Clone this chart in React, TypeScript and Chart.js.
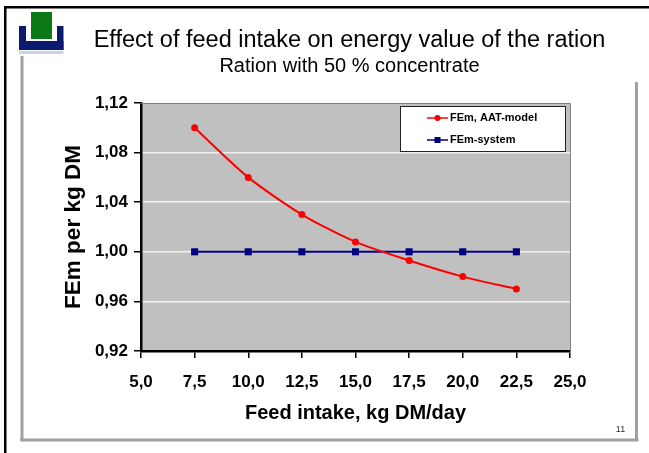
import React, { useEffect, useRef } from "react";
import { Chart, registerables } from "chart.js";

Chart.register(...registerables);

const intake = [7.5, 10, 12.5, 15, 17.5, 20, 22.5];
const aatModel = [1.1, 1.06, 1.03, 1.008, 0.993, 0.98, 0.97];
const femSystem = [1, 1, 1, 1, 1, 1, 1];
const titleText = "Effect of feed intake on energy value of the ration";
const subtitleText = "Ration with 50 % concentrate";
const xLabel = "Feed intake, kg DM/day";
const yLabel = "FEm per kg DM";
const pageNumber = "11";

const FONT = "'Liberation Sans', Arial, sans-serif";
const RED = "#ff0000";
const NAVY = "#000080";

const slidePlugin = {
  id: "slide",
  beforeDraw(chart: any) {
    const { ctx, chartArea: a } = chart;
    ctx.save();
    ctx.fillStyle = "#ffffff";
    ctx.fillRect(0, 0, chart.width, chart.height);
    // slide outline
    ctx.fillStyle = "#000000";
    ctx.fillRect(4, 6, 645, 2.5);
    ctx.fillRect(4, 6, 2.5, 447);
    // grey frame
    ctx.fillStyle = "#a0a0a0";
    ctx.fillRect(20.5, 56, 3, 385);
    ctx.fillRect(20.5, 438.5, 618, 3);
    ctx.fillRect(635, 82, 3, 359);
    // logo
    ctx.fillStyle = "#0a1a6e";
    ctx.fillRect(19, 26, 7, 24);
    ctx.fillRect(57, 26, 6.5, 24);
    ctx.fillRect(19, 41, 44.5, 9);
    ctx.fillStyle = "#cdd2ea";
    ctx.fillRect(19, 51, 44.5, 3);
    ctx.fillStyle = "#0b7a16";
    ctx.fillRect(31, 12, 21, 27);
    // plot background
    ctx.fillStyle = "#c0c0c0";
    ctx.fillRect(a.left, a.top, a.right - a.left, a.bottom - a.top);
    ctx.restore();
  },
  afterDatasetsDraw(chart: any) {
    const { ctx, chartArea: a } = chart;
    ctx.save();
    // plot border top and right
    ctx.strokeStyle = "#808080";
    ctx.lineWidth = 1;
    ctx.beginPath();
    ctx.moveTo(a.left, a.top + 0.5);
    ctx.lineTo(a.right + 0.5, a.top + 0.5);
    ctx.lineTo(a.right + 0.5, a.bottom);
    ctx.stroke();
    // legend box
    const bx = 400, by = 106, bw = 165, bh = 45;
    ctx.fillStyle = "#ffffff";
    ctx.fillRect(bx, by, bw, bh);
    ctx.strokeStyle = "#222222";
    ctx.lineWidth = 1;
    ctx.strokeRect(bx + 0.5, by + 0.5, bw, bh);
    chart.data.datasets.forEach((d: any, i: number) => {
      const y = by + 12 + i * 22;
      ctx.strokeStyle = d.borderColor;
      ctx.lineWidth = 1.5;
      ctx.beginPath();
      ctx.moveTo(427, y);
      ctx.lineTo(448, y);
      ctx.stroke();
      ctx.fillStyle = d.backgroundColor;
      if (d.pointStyle === "circle") {
        ctx.beginPath();
        ctx.arc(437.5, y, 3, 0, Math.PI * 2);
        ctx.fill();
      } else {
        ctx.fillRect(434.5, y - 3, 6, 6);
      }
      ctx.fillStyle = "#000000";
      ctx.font = `bold 11px ${FONT}`;
      ctx.textAlign = "left";
      ctx.textBaseline = "middle";
      ctx.fillText(d.label, 450, y);
    });
    // slide number
    ctx.fillStyle = "#333333";
    ctx.font = `9px ${FONT}`;
    ctx.textAlign = "center";
    ctx.textBaseline = "middle";
    ctx.fillText(pageNumber, 620.5, 430);
    ctx.restore();
  },
};

export default function App() {
  const ref = useRef<HTMLCanvasElement | null>(null);
  useEffect(() => {
    const chart = new Chart(ref.current as HTMLCanvasElement, {
      type: "line",
      data: {
        datasets: [
          {
            label: "FEm, AAT-model",
            data: intake.map((x, i) => ({ x, y: aatModel[i] })),
            borderColor: RED,
            backgroundColor: RED,
            borderWidth: 2,
            pointStyle: "circle",
            pointRadius: 3.5,
            pointBorderWidth: 0,
            tension: 0.25,
          },
          {
            label: "FEm-system",
            data: intake.map((x, i) => ({ x, y: femSystem[i] })),
            borderColor: NAVY,
            backgroundColor: NAVY,
            borderWidth: 2,
            pointStyle: "rect",
            pointRadius: 5,
            pointBorderWidth: 0,
          },
        ],
      },
      options: {
        responsive: false,
        animation: false,
        layout: { padding: { left: 50, right: 0, top: 0, bottom: 0 } },
        plugins: {
          legend: { display: false },
          tooltip: { enabled: false },
          title: {
            display: true,
            text: titleText,
            color: "#000000",
            font: { family: FONT, size: 23.5, weight: "normal", lineHeight: 1.2 },
            padding: { top: 26, bottom: 0 },
          },
          subtitle: {
            display: true,
            text: subtitleText,
            color: "#000000",
            font: { family: FONT, size: 20, weight: "normal", lineHeight: 1.2 },
            padding: { top: 0, bottom: 24.8 },
          },
        },
        scales: {
          x: {
            type: "linear",
            min: 5,
            max: 25,
            afterFit: (s: any) => {
              s.height = 102;
            },
            afterBuildTicks: (s: any) => {
              s.ticks = [5, 7.5, 10, 12.5, 15, 17.5, 20, 22.5, 25].map((value) => ({ value }));
            },
            border: { color: "#000000", width: 2.5 },
            grid: { drawOnChartArea: false, color: "#000000", lineWidth: 1.5, tickLength: 7 },
            ticks: {
              color: "#000000",
              padding: 14,
              maxRotation: 0,
              autoSkip: false,
              font: { family: FONT, size: 17, weight: "bold" },
              callback: (v: any) => Number(v).toFixed(1).replace(".", ","),
            },
            title: {
              display: true,
              text: xLabel,
              color: "#000000",
              font: { family: FONT, size: 20, weight: "bold", lineHeight: 1.2 },
              padding: { top: 0, bottom: 28 },
            },
          },
          y: {
            type: "linear",
            position: "left",
            min: 0.92,
            max: 1.12,
            afterFit: (s: any) => {
              s.width = 91;
            },
            afterBuildTicks: (s: any) => {
              s.ticks = [0.92, 0.96, 1, 1.04, 1.08, 1.12].map((value) => ({ value }));
            },
            border: { color: "#000000", width: 2.5 },
            grid: {
              color: (c: any) => (c.tick && (c.tick.value <= 0.92 || c.tick.value >= 1.12) ? "rgba(0,0,0,0)" : "#f2f2f2"),
              tickColor: "#000000",
              lineWidth: 1.5,
              tickLength: 7,
            },
            ticks: {
              color: "#000000",
              padding: 6,
              autoSkip: false,
              font: { family: FONT, size: 17, weight: "bold" },
              callback: (v: any) => Number(v).toFixed(2).replace(".", ","),
            },
            title: {
              display: true,
              text: yLabel,
              color: "#000000",
              font: { family: FONT, size: 22.5, weight: "bold", lineHeight: 1.2 },
              padding: { top: 10, bottom: 0 },
            },
          },
          y2: {
            type: "linear",
            position: "right",
            display: true,
            afterFit: (s: any) => {
              s.width = 79;
            },
            border: { display: false },
            grid: { display: false },
            ticks: { display: false },
          },
        },
      },
      plugins: [slidePlugin],
    } as any);
    return () => chart.destroy();
  }, []);
  return (
    <div style={{ position: "absolute", left: 0, top: 0, width: 649, height: 453, background: "#fff" }}>
      <canvas ref={ref} width={649} height={453} style={{ display: "block" }} />
    </div>
  );
}
